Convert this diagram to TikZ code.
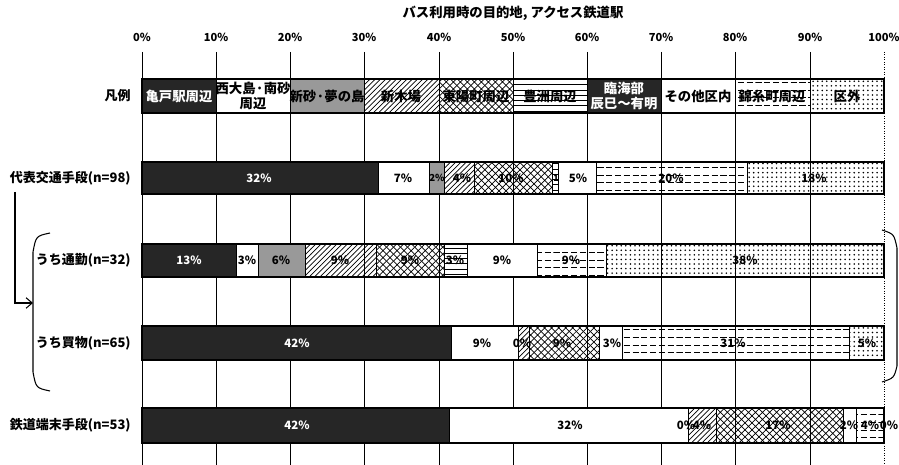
\documentclass[tikz,border=0pt]{standalone}
\usepackage{fontspec}
\setmainfont{Noto Sans CJK JP}
\usetikzlibrary{patterns,arrows.meta}

\pgfdeclarepatternformonly{dashlines}{\pgfpoint{-0.1pt}{-0.1pt}}{\pgfpoint{5pt}{4.4pt}}{\pgfpoint{5pt}{4.4pt}}{\pgfsetlinewidth{0.5pt}\pgfpathmoveto{\pgfpoint{0pt}{2.2pt}}\pgfpathlineto{\pgfpoint{3.5pt}{2.2pt}}\pgfusepath{stroke}}
\pgfdeclarepatternformonly{diagcross}{\pgfpoint{-0.1pt}{-0.1pt}}{\pgfpoint{4pt}{4pt}}{\pgfpoint{4pt}{4pt}}{\pgfsetlinewidth{0.4pt}\pgfpathmoveto{\pgfpoint{0pt}{0pt}}\pgfpathlineto{\pgfpoint{4pt}{4pt}}\pgfpathmoveto{\pgfpoint{0pt}{4pt}}\pgfpathlineto{\pgfpoint{4pt}{0pt}}\pgfusepath{stroke}}
\pgfdeclarepatternformonly{finedots}{\pgfpoint{-0.6pt}{-0.6pt}}{\pgfpoint{2.6pt}{2.6pt}}{\pgfpoint{2.6pt}{2.6pt}}{\pgfpathcircle{\pgfpoint{0pt}{0pt}}{0.5pt}\pgfusepath{fill}}

\tikzset{
  kameido/.style={fill=black!85},
  nishiojima/.style={fill=white},
  shinsuna/.style={fill=black!40},
  shinkiba/.style={pattern=north east lines},
  toyocho/.style={pattern=diagcross},
  toyosu/.style={pattern=horizontal lines},
  rinkai/.style={fill=black!85},
  sonota/.style={fill=white},
  kinshicho/.style={pattern=dashlines},
  kugai/.style={pattern=finedots},
  barbox/.style={draw=black, line width=0.9pt},
  grid/.style={line width=0.4pt},
  axis/.style={font=\bfseries\fontsize{6.3}{7}\selectfont, inner sep=0pt},
  pct/.style={font=\bfseries\fontsize{6.5}{7}\selectfont, inner sep=0pt},
  lgtext/.style={font=\bfseries\fontsize{7.6}{8.4}\selectfont, inner sep=0pt, align=center},
  rowlbl/.style={font=\bfseries\fontsize{7.4}{8}\selectfont, inner sep=0pt, anchor=east},
}

\begin{document}
\begin{tikzpicture}[x=0.02cm, y=-0.02cm]
		%%%%% START %%%%%
		\useasboundingbox (0,0) rectangle (899,465);
		
		\node[lgtext] (title) at (513,13) {バス利用時の目的地, アクセス鉄道駅};
		
		% axis
		\node[axis] (p0) at (142,37) {0\%};
		\node[axis] (p10) at (216,37) {10\%};
		\node[axis] (p20) at (290,37) {20\%};
		\node[axis] (p30) at (364,37) {30\%};
		\node[axis] (p40) at (439,37) {40\%};
		\node[axis] (p50) at (513,37) {50\%};
		\node[axis] (p60) at (587,37) {60\%};
		\node[axis] (p70) at (661,37) {70\%};
		\node[axis] (p80) at (735,37) {80\%};
		\node[axis] (p90) at (810,37) {90\%};
		\node[axis] (p100) at (884,37) {100\%};
		
		\draw[grid] (142,52) -- (142,465);
		\draw[grid] (216,52) -- (216,465);
		\draw[grid] (290,52) -- (290,465);
		\draw[grid] (364,52) -- (364,465);
		\draw[grid] (439,52) -- (439,465);
		\draw[grid] (513,52) -- (513,465);
		\draw[grid] (587,52) -- (587,465);
		\draw[grid] (661,52) -- (661,465);
		\draw[grid] (735,52) -- (735,465);
		\draw[grid] (810,52) -- (810,465);
		\draw[grid, densely dotted] (884,52) -- (884,465);
		
		% legend
		\node[rowlbl] (lgd) at (131,96) {凡例};
		\draw[kameido] (142,79) rectangle (216,113);
		\draw[nishiojima] (216,79) rectangle (290,113);
		\draw[shinsuna] (290,79) rectangle (364,113);
		\draw[shinkiba] (364,79) rectangle (439,113);
		\draw[toyocho] (439,79) rectangle (513,113);
		\draw[toyosu] (513,79) rectangle (587,113);
		\draw[rinkai] (587,79) rectangle (661,113);
		\draw[sonota] (661,79) rectangle (735,113);
		\draw[kinshicho] (735,79) rectangle (810,113);
		\draw[kugai] (810,79) rectangle (884,113);
		\draw[barbox] (142,79) rectangle (884,113);
		\draw[line width=0.5pt] (216,79) -- (216,113) (290,79) -- (290,113) (364,79) -- (364,113) (439,79) -- (439,113) (513,79) -- (513,113) (587,79) -- (587,113) (661,79) -- (661,113) (735,79) -- (735,113) (810,79) -- (810,113);
		\node[lgtext, text=white] (lg1) at (179,96) {亀戸駅周辺};
		\node[lgtext] (lg2) at (253,96) {西大島·南砂\\周辺};
		\node[lgtext] (lg3) at (327,96) {新砂·夢の島};
		\node[lgtext] (lg4) at (401,96) {新木場};
		\node[lgtext] (lg5) at (476,96) {東陽町周辺};
		\node[lgtext] (lg6) at (550,96) {豊洲周辺};
		\node[lgtext, text=white] (lg7) at (624,96) {臨海部\\辰巳～有明};
		\node[lgtext] (lg8) at (698,96) {その他区内};
		\node[lgtext] (lg9) at (772,96) {錦糸町周辺};
		\node[lgtext] (lg10) at (847,96) {区外};
		
		% row 1
		\node[rowlbl] (r1lbl) at (131,178) {代表交通手段(n=98)};
		\draw[kameido] (142,162) rectangle (378,194);
		\draw[nishiojima] (378,162) rectangle (429,194);
		\draw[shinsuna] (429,162) rectangle (444,194);
		\draw[shinkiba] (444,162) rectangle (474,194);
		\draw[toyocho] (474,162) rectangle (552,194);
		\draw[toyosu] (552,162) rectangle (558,194);
		\draw[sonota] (558,162) rectangle (596,194);
		\draw[kinshicho] (596,162) rectangle (747,194);
		\draw[kugai] (747,162) rectangle (884,194);
		\draw[barbox] (142,162) rectangle (884,194);
		\node[pct, text=white] (r1a) at (259,178) {32\%};
		\node[pct] (r1b) at (403,178) {7\%};
		\node[pct, font=\bfseries\fontsize{5.5}{6}\selectfont] (r1c) at (437,178) {2\%};
		\node[pct] (r1d) at (462,178) {4\%};
		\node[pct] (r1e) at (511,178) {10\%};
		\node[pct, font=\bfseries\fontsize{5}{6}\selectfont] (r1f) at (556,178) {1};
		\node[pct] (r1g) at (578,178) {5\%};
		\node[pct] (r1h) at (671,178) {20\%};
		\node[pct] (r1i) at (814,178) {18\%};
		
		% row 2
		\node[rowlbl] (r2lbl) at (131,260) {うち通勤(n=32)};
		\draw[kameido] (142,244) rectangle (236,277);
		\draw[nishiojima] (236,244) rectangle (258,277);
		\draw[shinsuna] (258,244) rectangle (305,277);
		\draw[shinkiba] (305,244) rectangle (376,277);
		\draw[toyocho] (376,244) rectangle (444,277);
		\draw[toyosu] (444,244) rectangle (467,277);
		\draw[sonota] (467,244) rectangle (537,277);
		\draw[kinshicho] (537,244) rectangle (606,277);
		\draw[kugai] (606,244) rectangle (884,277);
		\draw[barbox] (142,244) rectangle (884,277);
		\node[pct, text=white] (r2a) at (189,260) {13\%};
		\node[pct] (r2b) at (247,260) {3\%};
		\node[pct] (r2c) at (281,260) {6\%};
		\node[pct] (r2d) at (340,260) {9\%};
		\node[pct] (r2e) at (410,260) {9\%};
		\node[pct] (r2f) at (455,260) {3\%};
		\node[pct] (r2g) at (502,260) {9\%};
		\node[pct] (r2h) at (571,260) {9\%};
		\node[pct] (r2i) at (745,260) {38\%};
		
		% row 3
		\node[rowlbl] (r3lbl) at (131,343) {うち買物(n=65)};
		\draw[kameido] (142,326) rectangle (451,360);
		\draw[nishiojima] (451,326) rectangle (518,360);
		\draw[shinkiba] (518,326) rectangle (529,360);
		\draw[toyocho] (529,326) rectangle (599,360);
		\draw[sonota] (599,326) rectangle (622,360);
		\draw[kinshicho] (622,326) rectangle (849,360);
		\draw[kugai] (849,326) rectangle (884,360);
		\draw[barbox] (142,326) rectangle (884,360);
		\node[pct, text=white] (r3a) at (297,343) {42\%};
		\node[pct] (r3b) at (482,343) {9\%};
		\node[pct] (r3c) at (522,343) {0\%};
		\node[pct] (r3d) at (562,343) {9\%};
		\node[pct] (r3e) at (612,343) {3\%};
		\node[pct] (r3f) at (733,343) {31\%};
		\node[pct] (r3g) at (867,343) {5\%};
		
		% row 4
		\node[rowlbl] (r4lbl) at (131,425) {鉄道端末手段(n=53)};
		\draw[kameido] (142,408) rectangle (449,443);
		\draw[nishiojima] (449,408) rectangle (688,443);
		\draw[shinkiba] (688,408) rectangle (716,443);
		\draw[toyocho] (716,408) rectangle (843,443);
		\draw[sonota] (843,408) rectangle (856,443);
		\draw[kinshicho] (856,408) rectangle (884,443);
		\draw[barbox] (142,408) rectangle (884,443);
		\node[pct, text=white] (r4a) at (297,425) {42\%};
		\node[pct] (r4b) at (570,425) {32\%};
		\node[pct] (r4c) at (686,425) {0\%};
		\node[pct] (r4d) at (702,425) {4\%};
		\node[pct] (r4e) at (778,425) {17\%};
		\node[pct] (r4f) at (849,425) {2\%};
		\node[pct] (r4g) at (870,425) {4\%};
		\node[pct] (r4h) at (889,425) {0\%};
		
		% brackets
		\coordinate (arrS) at (15,192);
		\coordinate (arrE) at (33,303);
		\draw[line width=0.6pt, -{Straight Barb[length=3.5pt,width=6pt]}] (arrS) |- (arrE);
		\draw[line width=0.6pt] (50,233) .. controls (36,236) .. (33,252) -- (33,372) .. controls (36,388) .. (50,391);
		\draw[line width=0.6pt] (882,230) .. controls (894,234) .. (897,248) -- (897,366) .. controls (894,378) .. (882,382);
		
		%%%%% END %%%%%
	\end{tikzpicture}
\end{document}
